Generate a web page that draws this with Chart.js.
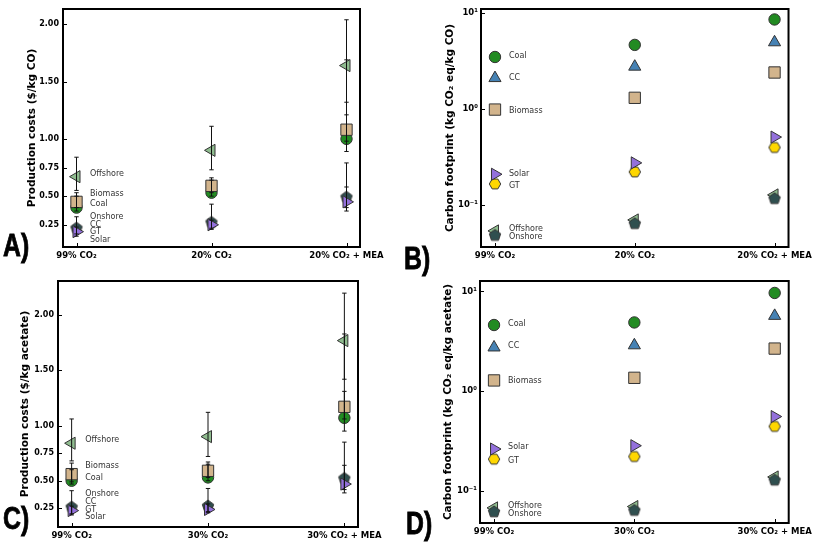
<!DOCTYPE html>
<html><head><meta charset="utf-8">
<script src="https://cdn.jsdelivr.net/npm/chart.js@4.4.1/dist/chart.umd.min.js"></script>
<style>
body{margin:0;background:#fff;width:817px;height:545px;position:relative;overflow:hidden;font-family:'DejaVu Sans',sans-serif}
.p{position:absolute}
.lbl{position:absolute;font-family:'Liberation Sans','DejaVu Sans',sans-serif;font-weight:bold;font-size:31px;line-height:31px;color:#000;-webkit-text-stroke:0.8px #000;transform:scaleX(0.8);transform-origin:left top}
</style></head><body>
<canvas id="cA" class="p" style="left:0;top:0" width="408" height="272"></canvas>
<canvas id="cB" class="p" style="left:408px;top:0" width="409" height="272"></canvas>
<canvas id="cC" class="p" style="left:0;top:272px" width="408" height="273"></canvas>
<canvas id="cD" class="p" style="left:408px;top:272px" width="409" height="273"></canvas>
<div class="lbl" style="left:3px;top:230px">A)</div>
<div class="lbl" style="left:404px;top:243px">B)</div>
<div class="lbl" style="left:3px;top:503px">C)</div>
<div class="lbl" style="left:406px;top:508px">D)</div>
<script>
// ---------- data ----------
const catsAB = ['99% CO₂', '20% CO₂', '20% CO₂ + MEA'];
const catsCD = ['99% CO₂', '30% CO₂', '30% CO₂ + MEA'];
const costTicks = [0.25, 0.50, 0.75, 1.00, 1.50, 2.00];
const logTicks = [0.1, 1, 10];
const logTickLabels = ['10⁻¹', '10⁰', '10¹'];

// Panel A: production costs ($/kg CO)
const A_Offshore = [0.67, 0.90, 1.64];
const A_Offshore_lo = [0.55, 0.73, 1.32];
const A_Offshore_hi = [0.84, 1.11, 2.04];
const A_Biomass = [0.45, 0.59, 1.08];
const A_Biomass_lo = [0.40, 0.53, 0.98];
const A_Biomass_hi = [0.53, 0.66, 1.21];
const A_Coal = [0.40, 0.53, 1.00];
const A_Coal_lo = [0.37, 0.50, 0.89];
const A_Coal_hi = [0.50, 0.64, 1.69];
const A_Onshore = [0.22, 0.27, 0.49];
const A_Onshore_lo = [0.17, 0.22, 0.40];
const A_Onshore_hi = [0.32, 0.43, 0.79];
const A_Solar = [0.19, 0.25, 0.45];
const A_Solar_lo = [0.15, 0.21, 0.37];
const A_Solar_hi = [0.23, 0.29, 0.58];

// Panel C: production costs ($/kg acetate)
const C_Offshore = [0.84, 0.90, 1.77];
const C_Offshore_lo = [0.68, 0.72, 1.42];
const C_Offshore_hi = [1.06, 1.12, 2.20];
const C_Biomass = [0.56, 0.59, 1.17];
const C_Biomass_lo = [0.49, 0.53, 1.06];
const C_Biomass_hi = [0.66, 0.67, 1.31];
const C_Coal = [0.50, 0.53, 1.07];
const C_Coal_lo = [0.47, 0.50, 0.95];
const C_Coal_hi = [0.60, 0.65, 1.83];
const C_Onshore = [0.26, 0.27, 0.52];
const C_Onshore_lo = [0.20, 0.22, 0.42];
const C_Onshore_hi = [0.41, 0.43, 0.85];
const C_Solar = [0.23, 0.24, 0.47];
const C_Solar_lo = [0.19, 0.21, 0.39];
const C_Solar_hi = [0.27, 0.29, 0.64];

// Panel B: carbon footprint (kg CO2 eq/kg CO)
const B_Coal = [3.47, 4.64, 8.55];
const B_CC = [2.09, 2.75, 4.94];
const B_Biomass = [0.98, 1.30, 2.39];
const B_Solar = [0.207, 0.272, 0.506];
const B_GT = [0.164, 0.219, 0.394];
const B_Offshore = [0.053, 0.069, 0.126];
const B_Onshore = [0.0475, 0.063, 0.115];

// Panel D: carbon footprint (kg CO2 eq/kg acetate)
const D_Coal = [4.60, 4.88, 9.64];
const D_CC = [2.74, 2.88, 5.68];
const D_Biomass = [1.28, 1.36, 2.67];
const D_Solar = [0.263, 0.284, 0.556];
const D_GT = [0.208, 0.221, 0.443];
const D_Offshore = [0.0676, 0.0697, 0.138];
const D_Onshore = [0.0616, 0.0637, 0.128];

// in-plot text labels
const labelsAC = ['Offshore', 'Biomass', 'Coal', 'Onshore', 'CC', 'GT', 'Solar'];
const A_labelY = [0.69, 0.52, 0.43, 0.32, 0.25, 0.19, 0.12];
const C_labelY = [0.87, 0.63, 0.53, 0.38, 0.31, 0.24, 0.17];
const labelsBD = ['Coal', 'CC', 'Biomass', 'Solar', 'GT', 'Offshore', 'Onshore'];
const B_labelY = [3.58, 2.12, 0.946, 0.21, 0.156, 0.0556, 0.0456];
const D_labelY = [4.77, 2.81, 1.26, 0.274, 0.202, 0.071, 0.059];

// ---------- styles ----------
function polyCanvas(n, r, fill, rotDeg) {
  const s = Math.ceil(2 * r + 4);
  const c = document.createElement('canvas'); c.width = s; c.height = s;
  const g = c.getContext('2d');
  g.beginPath();
  for (let i = 0; i < n; i++) {
    const a = (rotDeg + i * 360 / n - 90) * Math.PI / 180;
    const px = s / 2 + r * Math.cos(a), py = s / 2 + r * Math.sin(a);
    i ? g.lineTo(px, py) : g.moveTo(px, py);
  }
  g.closePath(); g.fillStyle = fill; g.fill();
  g.strokeStyle = '#333'; g.lineWidth = 1; g.stroke();
  return c;
}
const EDGE = '#333';
const STY = {
  Coal: {style: 'circle', r: 5.7, color: '#228B22', rot: 0, order: 5},
  CC: {style: 'triangle', r: 7, color: '#4682B4', rot: 0, order: 3},
  Biomass: {style: 'rect', r: 8, color: '#D2B48C', rot: 0, order: 4},
  Solar: {style: 'triangle', r: 7, color: '#9370DB', rot: 90, order: 1},
  GT: {style: polyCanvas(6, 5.7, '#FFD700', 30), r: 6, color: '#FFD700', rot: 0, order: 2},
  Offshore: {style: 'triangle', r: 7, color: '#8FBC8F', rot: -90, order: 7},
  Onshore: {style: polyCanvas(5, 6, '#2F4F4F', 0), r: 6, color: '#2F4F4F', rot: 0, order: 6},
};

function markerDs(name, vals) {
  const st = STY[name];
  return {
    label: name,
    data: vals.map((v, i) => ({x: i, y: v})),
    pointStyle: st.style, pointRotation: st.rot, pointRadius: st.r,
    pointBackgroundColor: st.color, pointBorderColor: EDGE, pointBorderWidth: 1,
    showLine: false, order: st.order
  };
}
function errDs(lo, hi) {
  return lo.map((l, i) => ({
    data: [{x: i, y: l}, {x: i, y: hi[i]}],
    showLine: true, borderColor: '#111', borderWidth: 1,
    pointStyle: 'line', pointRadius: 2.2, pointBorderWidth: 1, pointBorderColor: '#111',
    order: 0
  }));
}

const framePlugin = {
  id: 'frame',
  afterDatasetsDraw(chart, args, opts) {
    const {ctx, chartArea: a, scales} = chart;
    ctx.save();
    ctx.fillStyle = '#333';
    ctx.font = '8px "DejaVu Sans"';
    ctx.textBaseline = 'middle'; ctx.textAlign = 'left';
    const lx = scales.x.getPixelForValue(0.1);
    (opts.names || []).forEach((n, i) => {
      ctx.fillText(n, lx, scales.y.getPixelForValue(opts.ys[i]));
    });
    ctx.strokeStyle = '#000'; ctx.lineWidth = 1;
    ctx.beginPath();
    scales.y.ticks.forEach(t => {
      const py = Math.round(scales.y.getPixelForValue(t.value)) + 0.5;
      ctx.moveTo(a.left, py); ctx.lineTo(a.left + 4, py);
    });
    scales.x.ticks.forEach(t => {
      const px = Math.round(scales.x.getPixelForValue(t.value)) + 0.5;
      ctx.moveTo(px, a.bottom); ctx.lineTo(px, a.bottom - 4);
    });
    ctx.stroke();
    ctx.lineWidth = 2;
    ctx.strokeRect(a.left, a.top, a.right - a.left, a.bottom - a.top);
    ctx.restore();
  }
};

function xScale(cats, h) {
  return {
    type: 'linear', min: -0.1, max: 2.1,
    afterBuildTicks: s => { s.ticks = [0, 1, 2].map(v => ({value: v})); },
    afterFit: s => { s.height = h; },
    grid: {display: false, drawTicks: false}, border: {display: false},
    ticks: {autoSkip: false, maxRotation: 0, minRotation: 0, padding: 4, color: '#000',
      font: {family: 'DejaVu Sans', weight: 'bold', size: 8.5},
      callback: v => cats[v]}
  };
}
function yCost(min, max, w, title, tpad) {
  return {
    type: 'linear', min, max,
    afterBuildTicks: s => { s.ticks = costTicks.map(v => ({value: v})); },
    afterFit: s => { s.width = w; },
    grid: {display: false, drawTicks: false}, border: {display: false},
    ticks: {padding: 4, color: '#000', font: {family: 'DejaVu Sans', weight: 'bold', size: 8},
      callback: v => v.toFixed(2)},
    title: {display: true, text: title, color: '#000', padding: {top: tpad, bottom: 0},
      font: {family: 'DejaVu Sans', weight: 'bold', size: 10.5}}
  };
}
function yLog(min, max, w, title, tpad) {
  return {
    type: 'logarithmic', min, max,
    afterBuildTicks: s => { s.ticks = logTicks.map(v => ({value: v})); },
    afterFit: s => { s.width = w; },
    grid: {display: false, drawTicks: false}, border: {display: false},
    ticks: {padding: 3, color: '#000', font: {family: 'DejaVu Sans', weight: 'bold', size: 8.5},
      callback: (v, i) => logTickLabels[i]},
    title: {display: true, text: title, color: '#000', padding: {top: tpad, bottom: 0},
      font: {family: 'DejaVu Sans', weight: 'bold', size: 10.5}}
  };
}

function makeChart(id, datasets, x, y, pad, names, ys) {
  new Chart(document.getElementById(id), {
    type: 'scatter',
    data: {datasets},
    options: {
      responsive: false, animation: false, events: [],
      layout: {padding: pad},
      scales: {x, y},
      plugins: {legend: {display: false}, tooltip: {enabled: false},
        frame: {names, ys}}
    },
    plugins: [framePlugin]
  });
}

makeChart('cA', [
  ...errDs(A_Offshore_lo, A_Offshore_hi), ...errDs(A_Biomass_lo, A_Biomass_hi),
  ...errDs(A_Coal_lo, A_Coal_hi), ...errDs(A_Onshore_lo, A_Onshore_hi), ...errDs(A_Solar_lo, A_Solar_hi),
  markerDs('Offshore', A_Offshore), markerDs('Biomass', A_Biomass), markerDs('Coal', A_Coal),
  markerDs('Onshore', A_Onshore), markerDs('Solar', A_Solar)
], xScale(catsAB, 25), yCost(0.056, 2.134, 63, 'Production costs ($/kg CO)', 26),
  {left: 0, right: 48, top: 3, bottom: 0}, labelsAC, A_labelY);

makeChart('cB', [
  markerDs('Coal', B_Coal), markerDs('CC', B_CC), markerDs('Biomass', B_Biomass),
  markerDs('Solar', B_Solar), markerDs('GT', B_GT), markerDs('Offshore', B_Offshore), markerDs('Onshore', B_Onshore)
], xScale(catsAB, 25), yLog(0.036, 11.0, 73, 'Carbon footprint (kg CO₂ eq/kg CO)', 36),
  {left: 0, right: 28, top: 3, bottom: 0}, labelsBD, B_labelY);

makeChart('cC', [
  ...errDs(C_Offshore_lo, C_Offshore_hi), ...errDs(C_Biomass_lo, C_Biomass_hi),
  ...errDs(C_Coal_lo, C_Coal_hi), ...errDs(C_Onshore_lo, C_Onshore_hi), ...errDs(C_Solar_lo, C_Solar_hi),
  markerDs('Offshore', C_Offshore), markerDs('Biomass', C_Biomass), markerDs('Coal', C_Coal),
  markerDs('Onshore', C_Onshore), markerDs('Solar', C_Solar)
], xScale(catsCD, 18), yCost(0.081, 2.31, 58, 'Production costs ($/kg acetate)', 19),
  {left: 0, right: 50, top: 8, bottom: 0}, labelsAC, C_labelY);

makeChart('cD', [
  markerDs('Coal', D_Coal), markerDs('CC', D_CC), markerDs('Biomass', D_Biomass),
  markerDs('Solar', D_Solar), markerDs('GT', D_GT), markerDs('Offshore', D_Offshore), markerDs('Onshore', D_Onshore)
], xScale(catsCD, 22), yLog(0.0477, 12.7, 72, 'Carbon footprint (kg CO₂ eq/kg acetate)', 34),
  {left: 0, right: 25, top: 4, bottom: 0}, labelsBD, D_labelY);
</script>
</body></html>
